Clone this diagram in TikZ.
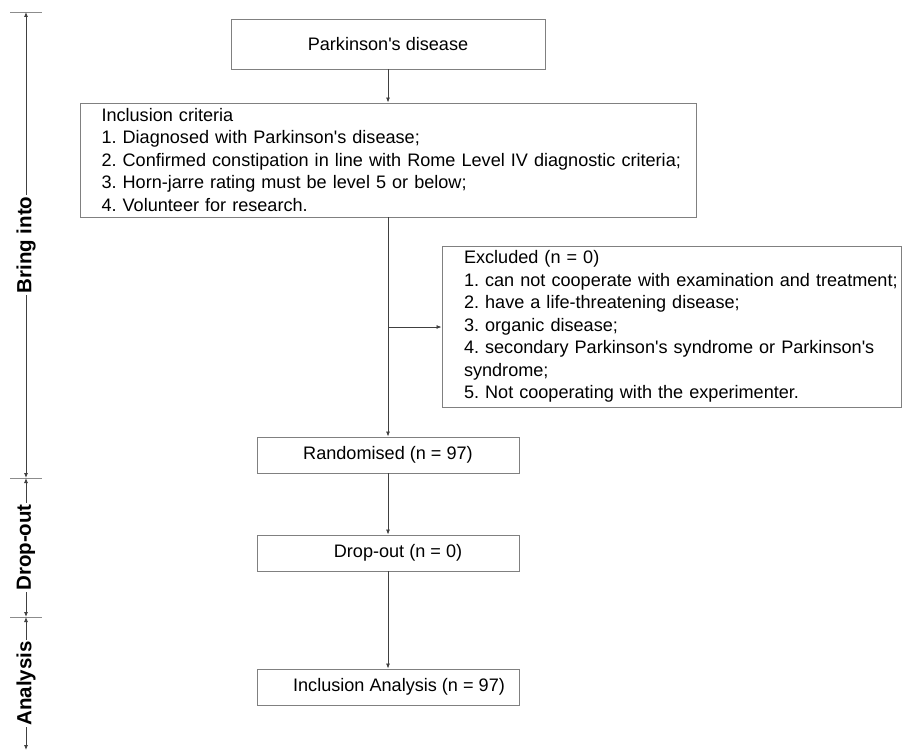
\documentclass[tikz,border=0pt]{standalone}
\usepackage{fontspec}
\setmainfont{Liberation Sans}
\usetikzlibrary{arrows.meta}
\frenchspacing

\begin{document}
\begin{tikzpicture}[x=1pt,y=-1pt,
    box/.style={draw=black!50,line width=0.9pt,rectangle,inner sep=0pt,font=\fontsize{18.1}{22.5}\selectfont},
    listbox/.style={box,align=left,inner xsep=21.5pt},
    arr/.style={draw=black!75,line width=0.8pt,-{Latex[length=5pt,width=4pt]}},
    bar/.style={draw=black!75,line width=0.8pt,{Latex[length=5pt,width=4pt]}-{Latex[length=5pt,width=4pt]}},
    tick/.style={draw=black!45,line width=0.9pt},
    stage/.style={fill=white,rotate=90,inner sep=1.5pt,font=\fontsize{20.5}{22}\selectfont\bfseries},
  ]
  \useasboundingbox (0,0) rectangle (902,754);

  % Boxes
  \node[box,minimum width=314pt,minimum height=50pt] (disease) at (388,44) {Parkinson\textquotesingle s disease};%
  \node[listbox,text width=573pt,minimum height=114pt] (criteria) at (388,160) {Inclusion criteria\\
    1. Diagnosed with Parkinson\textquotesingle s disease;\\
    \mbox{2. Confirmed constipation in line with Rome Level IV diagnostic criteria;}\\
    3. Horn-jarre rating must be level 5 or below;\\
    4. Volunteer for research.};%
  \node[listbox,inner xsep=22pt,text width=415pt,minimum height=161pt] (excluded) at (671.5,326.5) {Excluded (n = 0)\\
    \mbox{1. can not cooperate with examination and treatment;}\\
    2. have a life-threatening disease;\\
    3. organic disease;\\
    \mbox{4. secondary Parkinson\textquotesingle s syndrome or Parkinson\textquotesingle s}\\
    syndrome;\\
    5. Not cooperating with the experimenter.};%
  \node[box,minimum width=262pt,minimum height=36pt] (random) at (388,455) {Randomised (n = 97)};%
  \node[box,minimum width=262pt,minimum height=36pt] (dropout) at (388,553) {\hspace*{20pt}Drop-out (n = 0)};%
  \node[box,minimum width=262pt,minimum height=36pt] (analysis) at (388,687) {\hspace*{22pt}Inclusion Analysis (n = 97)};%

  % Arrows
  \coordinate (split) at (388,327);
  \draw[arr] (disease) -- (criteria);%
  \draw[arr] (criteria) -- (random);%
  \draw[arr] (split) -- (split -| excluded.west);%
  \draw[arr] (random) -- (dropout);%
  \draw[arr] (dropout) -- (analysis);%

  % Stage bar
  \coordinate (top) at (26,12);
  \coordinate (mid1) at (26,478);
  \coordinate (mid2) at (26,617);
  \coordinate (bot) at (26,750);
  \draw[tick] (10,12) -- (42,12);%
  \draw[tick] (10,478) -- (42,478);%
  \draw[tick] (10,617) -- (42,617);%
  \draw[bar] (top) -- node[stage] (bring) {Bring into} (mid1);%
  \draw[bar] (mid1) -- node[stage] (drop) {Drop-out} (mid2);%
  \draw[bar] (mid2) -- node[stage] (anal) {Analysis} (bot);%
\end{tikzpicture}
\end{document}
